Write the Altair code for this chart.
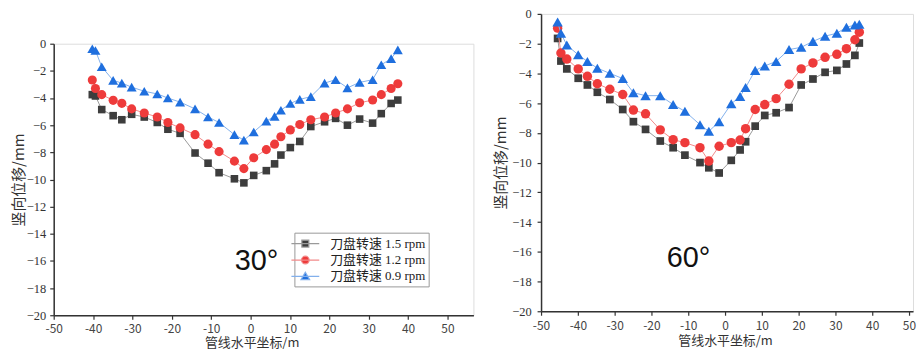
import altair as alt
import pandas as pd

series_names = ["刀盘转速 1.5 rpm", "刀盘转速 1.2 rpm", "刀盘转速 0.9 rpm"]
marker_colors = ["#3d3d3d", "#ee3b3b", "#1f6fde"]
line_colors = ["#9a9a9a", "#f28a8a", "#82b0ec"]
shapes = ["square", "circle", "triangle-up"]
legend_paths = [
    "M-2,0H2M-0.5,-0.5H0.5V0.5H-0.5Z",
    "M-2,0H2M0.55,0A0.55,0.55 0 1,1 -0.55,0A0.55,0.55 0 1,1 0.55,0Z",
    "M-2,0H2M0,-0.6L0.62,0.45L-0.62,0.45Z",
]

# 30 degree panel
x30 = [-40.2, -39.4, -37.8, -34.9, -32.7, -30.2, -27.0, -23.7, -21.0, -17.9,
       -14.1, -10.8, -8.0, -4.1, -1.7, 0.8, 4.0, 6.1, 7.7, 10.1,
       12.5, 15.3, 18.8, 21.6, 24.6, 27.7, 31.0, 33.2, 35.7, 37.4]
y30_15 = [-3.75, -3.85, -4.85, -5.3, -5.6, -5.2, -5.4, -5.8, -6.3, -6.6,
          -8.05, -8.8, -9.5, -9.95, -10.25, -9.7, -9.35, -8.85, -8.2, -7.65,
          -7.2, -6.1, -5.75, -5.5, -6.0, -5.55, -5.85, -5.15, -4.4, -4.15]
y30_12 = [-2.67, -3.3, -3.75, -4.17, -4.39, -4.8, -5.1, -5.4, -5.8, -6.2,
          -6.7, -7.4, -7.95, -8.65, -9.2, -8.4, -7.8, -7.4, -6.85, -6.35,
          -5.95, -5.6, -5.4, -5.1, -4.8, -4.35, -4.15, -3.75, -3.3, -2.95]
y30_09 = [-0.37, -0.5, -1.7, -2.7, -2.9, -3.2, -3.5, -3.7, -4.0, -4.3,
          -4.8, -5.4, -5.8, -6.7, -7.1, -6.5, -5.7, -5.35, -4.9, -4.4,
          -4.1, -3.9, -2.9, -2.65, -3.25, -2.85, -2.65, -1.55, -1.1, -0.45]

# 60 degree panel
x60 = [-45.5, -44.6, -43.0, -39.9, -37.4, -34.7, -31.3, -27.8, -24.9, -21.6,
       -17.6, -14.1, -10.9, -6.8, -4.4, -1.6, 1.7, 4.1, 5.6, 8.2,
       10.8, 13.9, 17.4, 20.7, 23.9, 27.2, 30.4, 33.0, 35.3, 36.5]
y60_15 = [-1.65, -3.17, -3.7, -4.33, -4.78, -5.27, -5.76, -6.43, -7.25, -7.77,
          -8.55, -9.0, -9.5, -10.0, -10.35, -10.7, -9.85, -9.15, -8.6, -7.55,
          -6.83, -6.65, -6.3, -4.78, -4.38, -3.93, -3.8, -3.37, -2.79, -1.96]
y60_12 = [-0.96, -2.63, -3.04, -3.7, -4.2, -4.7, -5.07, -5.42, -6.47, -6.72,
          -7.8, -8.46, -8.66, -9.0, -9.9, -8.9, -8.66, -8.48, -7.72, -6.43,
          -6.1, -5.7, -4.73, -3.7, -3.3, -2.92, -2.72, -2.34, -1.74, -1.23]
y60_09 = [-0.54, -1.3, -2.1, -2.75, -3.2, -3.65, -4.0, -4.35, -5.3, -5.5,
          -5.5, -6.1, -6.55, -7.45, -7.9, -7.25, -6.05, -5.55, -4.95, -3.8,
          -3.5, -3.2, -2.4, -2.25, -1.85, -1.5, -1.3, -0.9, -0.75, -0.7]

x_ticks = list(range(-50, 51, 10))
y_ticks = list(range(-20, 1, 2))
x_title = "管线水平坐标/m"
y_title = "竖向位移/mm"

SERIF = "'Liberation Serif', 'Noto Sans CJK SC'"
SANS_CJK = "'Noto Sans CJK SC'"


def panel(xs, ys_list, w, h, x_max, title_x, angle_label, ann_x, ann_y, leg_x, leg_y,
          leg_font, leg_row_pad, leg_offset, msizes, y_label_pad, y_title_pad,
          x_label_pad, x_title_pad):
    rows = []
    for name, ys in zip(series_names, ys_list):
        for i, (xv, yv) in enumerate(zip(xs, ys)):
            rows.append({"series": name, "idx": i, "x": xv, "y": yv})
    df = pd.DataFrame(rows)

    xscale = alt.Scale(domain=[-50, x_max], nice=False, zero=False)
    yscale = alt.Scale(domain=[-20, 0], nice=False, zero=False)
    xaxis = alt.Axis(values=x_ticks, title=x_title, titleX=title_x,
                     labelExpr="datum.value < 0 ? '-' + abs(datum.value) : '' + datum.value",
                     labelFont=SANS_CJK, labelFontSize=12, labelColor="#444",
                     titleFont=SANS_CJK, titleFontSize=13, titleColor="#333",
                     titleFontWeight="normal", titlePadding=x_title_pad,
                     labelPadding=x_label_pad,
                     tickSize=4, tickColor="#333", domainColor="#333",
                     domainWidth=1.5, tickWidth=1.2, grid=False, labelFlush=False)
    yaxis = alt.Axis(values=y_ticks, title=y_title, format="d",
                     labelFont=SERIF, labelFontSize=12.5, labelColor="#333",
                     titleFont=SANS_CJK, titleFontSize=15, titleColor="#333",
                     titleFontWeight="normal", titlePadding=y_title_pad,
                     labelPadding=y_label_pad,
                     tickSize=4, tickColor="#333", domainColor="#333",
                     domainWidth=1.5, tickWidth=1.2, grid=False)

    layers = []
    for i, name in enumerate(series_names):
        base = alt.Chart(df).transform_filter(alt.datum.series == name)
        line = base.mark_line(color=line_colors[i], strokeWidth=1).encode(
            x=alt.X("x:Q", scale=xscale, axis=xaxis),
            y=alt.Y("y:Q", scale=yscale, axis=yaxis),
            order="idx:Q",
        )
        pts = base.mark_point(shape=shapes[i], filled=True, color=marker_colors[i],
                              size=msizes[i], opacity=1).encode(
            x=alt.X("x:Q", scale=xscale, axis=xaxis),
            y=alt.Y("y:Q", scale=yscale, axis=yaxis),
        )
        layers += [line, pts]

    legend = alt.Legend(
        title=None, orient="none", legendX=leg_x, legendY=leg_y,
        labelFont=SERIF, labelFontSize=leg_font, labelColor="#222",
        symbolSize=196, symbolStrokeWidth=1.2, symbolOpacity=1,
        labelOffset=leg_offset, rowPadding=leg_row_pad,
        strokeColor="#999", fillColor="white", padding=3,
    )
    leg_layer = alt.Chart(df).mark_point(opacity=0, filled=True, strokeWidth=1).encode(
        x=alt.X("x:Q", scale=xscale, axis=xaxis),
        y=alt.Y("y:Q", scale=yscale, axis=yaxis),
        fill=alt.Fill("series:N", scale=alt.Scale(domain=series_names, range=marker_colors), legend=legend),
        stroke=alt.Stroke("series:N", scale=alt.Scale(domain=series_names, range=line_colors), legend=legend),
        shape=alt.Shape("series:N", scale=alt.Scale(domain=series_names, range=legend_paths), legend=legend),
    )
    layers.append(leg_layer)

    ann_df = pd.DataFrame({"x": [ann_x], "y": [ann_y], "t": [angle_label]})
    ann = alt.Chart(ann_df).mark_text(font="'Liberation Sans'", fontSize=29, color="#111").encode(
        x=alt.X("x:Q", scale=xscale, axis=xaxis),
        y=alt.Y("y:Q", scale=yscale, axis=yaxis),
        text="t:N",
    )
    layers.append(ann)
    return alt.layer(*layers).properties(width=w, height=h)


left_panel = panel(x30, [y30_15, y30_12, y30_09], 422, 273, 56.6, 199, "30°", 1.5, -16.0,
                   242, 220, 13, 1.5, 17, [58, 84, 100], 4, 0, 4, 2)
spacer = alt.Chart(pd.DataFrame({"a": [0]})).mark_point(opacity=0, size=1).encode(
    x=alt.value(0), y=alt.value(0)).properties(
    width=10, height=22, view=alt.ViewBackground(stroke="transparent", fill="transparent"))
left = alt.vconcat(spacer, left_panel, spacing=0)

right = panel(x60, [y60_15, y60_12, y60_09], 374, 299, 51.1, 185, "60°", -9.9, -16.45,
              224, 137, 14.5, 3, 18, [60, 90, 110], 6, 3, 5, 3)

chart = alt.hconcat(left, right, spacing=18).properties(
    padding={"left": 10, "top": 6, "right": 0, "bottom": 0}
).configure_view(stroke=None).configure(background="white")

chart.save("out.html", embed_options={"renderer": "svg", "actions": False})
